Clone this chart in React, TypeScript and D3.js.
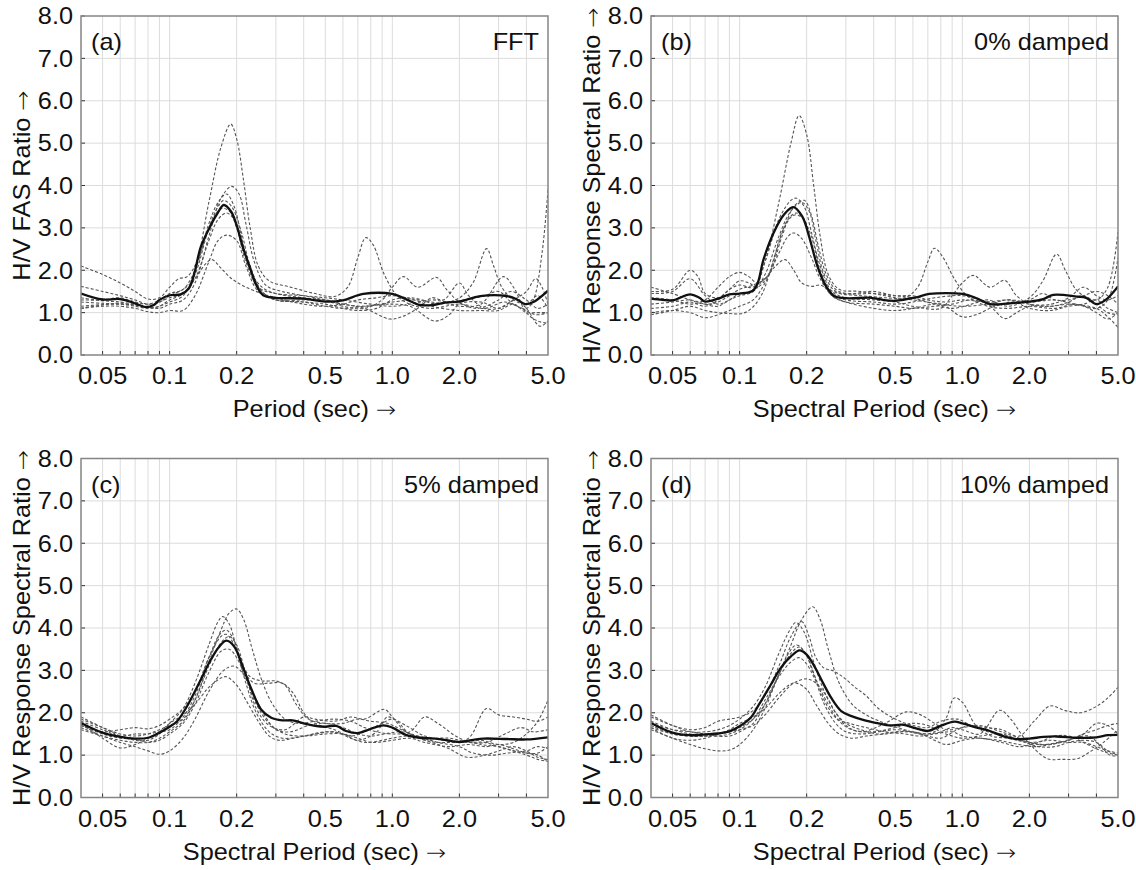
import React from "react";
import * as d3 from "d3";

// ---------- data (period [s], ratio) ----------
const xTickValues = [0.05, 0.1, 0.2, 0.5, 1, 2, 5];
const xTickLabels = ["0.05", "0.1", "0.2", "0.5", "1.0", "2.0", "5.0"];
const xGridValues = [0.05, 0.06, 0.07, 0.08, 0.09, 0.1, 0.2, 0.3, 0.4, 0.5, 0.6, 0.7, 0.8, 0.9, 1, 2, 3, 4];
const yTickValues = [0, 1, 2, 3, 4, 5, 6, 7, 8];
const yTickLabels = ["0.0", "1.0", "2.0", "3.0", "4.0", "5.0", "6.0", "7.0", "8.0"];

const panelLabels = ["(a)", "(b)", "(c)", "(d)"];
const panelTags = ["FFT", "0% damped", "5% damped", "10% damped"];
const yTitles = ["H/V FAS Ratio ", "H/V Response Spectral Ratio ", "H/V Response Spectral Ratio ", "H/V Response Spectral Ratio "];
const xTitles = ["Period (sec) ", "Spectral Period (sec) ", "Spectral Period (sec) ", "Spectral Period (sec) "];
const ARROW = "→";

type P = [number, number];

const fftMean: P[] = [[0.04,1.45],[0.05,1.31],[0.06,1.32],[0.07,1.22],[0.078,1.13],[0.085,1.18],[0.09,1.30],[0.1,1.41],[0.112,1.43],[0.122,1.57],[0.129,1.92],[0.138,2.55],[0.153,3.06],[0.164,3.34],[0.175,3.54],[0.189,3.38],[0.2,3.06],[0.213,2.55],[0.229,2.08],[0.245,1.65],[0.263,1.41],[0.3,1.35],[0.4,1.33],[0.5,1.26],[0.6,1.29],[0.74,1.44],[1.0,1.44],[1.15,1.32],[1.33,1.18],[1.52,1.18],[1.75,1.24],[2.0,1.26],[2.48,1.39],[3.27,1.39],[3.6,1.32],[3.95,1.2],[4.3,1.25],[5.0,1.52]];
const fftRuns: P[][] = [
  [[0.04,1.15],[0.055,1.2],[0.07,1.18],[0.085,1.12],[0.1,1.25],[0.115,1.4],[0.13,2.0],[0.15,3.6],[0.17,4.9],[0.188,5.45],[0.2,5.1],[0.215,4.1],[0.23,3.0],[0.25,2.1],[0.28,1.75],[0.35,1.6],[0.45,1.45],[0.55,1.38],[0.63,1.6],[0.7,2.3],[0.76,2.77],[0.82,2.6],[0.92,1.9],[1.05,1.4],[1.2,1.2],[1.5,1.1],[2.0,1.2],[2.6,1.1],[3.2,1.25],[3.8,1.1],[4.4,0.95],[5.0,1.0]],
  [[0.04,1.1],[0.05,1.18],[0.06,1.22],[0.075,1.15],[0.09,1.1],[0.1,1.2],[0.115,1.3],[0.13,1.7],[0.15,2.8],[0.17,3.7],[0.19,3.98],[0.205,3.8],[0.22,3.1],[0.24,2.2],[0.27,1.65],[0.32,1.5],[0.4,1.4],[0.5,1.3],[0.6,1.15],[0.75,1.1],[0.9,1.3],[1.0,1.6],[1.12,1.85],[1.3,1.6],[1.58,1.83],[1.75,1.55],[2.0,1.25],[2.4,1.1],[3.0,1.3],[3.4,1.5],[4.0,1.3],[4.5,1.1],[5.0,1.2]],
  [[0.04,2.1],[0.05,1.9],[0.06,1.7],[0.07,1.5],[0.08,1.32],[0.09,1.35],[0.1,1.6],[0.11,1.8],[0.12,1.85],[0.135,2.3],[0.15,3.1],[0.165,3.6],[0.18,3.8],[0.195,3.5],[0.21,2.8],[0.23,2.0],[0.26,1.6],[0.3,1.45],[0.4,1.35],[0.5,1.3],[0.6,1.2],[0.75,1.15],[1.0,1.25],[1.3,1.3],[1.6,1.2],[2.0,1.35],[2.3,1.7],[2.65,2.51],[2.85,2.1],[3.1,1.6],[3.5,1.3],[4.0,1.2],[4.5,1.4],[5.0,1.1]],
  [[0.04,1.35],[0.05,1.28],[0.06,1.25],[0.07,1.2],[0.08,1.15],[0.09,1.25],[0.1,1.35],[0.115,1.45],[0.13,1.9],[0.15,3.0],[0.165,3.5],[0.175,3.65],[0.19,3.5],[0.21,2.9],[0.23,2.1],[0.26,1.5],[0.3,1.3],[0.4,1.25],[0.5,1.2],[0.6,1.1],[0.7,1.05],[0.85,1.1],[1.0,1.3],[1.2,1.35],[1.5,1.25],[1.8,1.2],[2.0,1.15],[2.5,1.2],[3.15,1.85],[3.5,1.6],[4.0,1.0],[4.5,0.8],[5.0,0.75]],
  [[0.04,1.25],[0.05,1.22],[0.06,1.2],[0.07,1.15],[0.08,1.1],[0.09,1.15],[0.1,1.3],[0.115,1.45],[0.13,1.8],[0.15,2.7],[0.165,3.2],[0.18,3.35],[0.195,3.2],[0.21,2.7],[0.23,2.0],[0.26,1.5],[0.3,1.3],[0.4,1.3],[0.5,1.3],[0.6,1.2],[0.75,1.1],[0.97,0.85],[1.1,0.9],[1.3,1.1],[1.5,1.35],[1.7,1.3],[2.0,1.7],[2.2,1.4],[2.6,1.1],[3.0,1.1],[3.6,1.3],[4.0,1.1],[4.6,0.68],[5.0,0.8]],
  [[0.04,1.1],[0.05,1.15],[0.06,1.15],[0.07,1.1],[0.08,1.02],[0.09,1.0],[0.1,1.05],[0.115,1.05],[0.13,1.4],[0.15,2.2],[0.165,2.7],[0.18,2.83],[0.2,2.7],[0.22,2.1],[0.25,1.5],[0.3,1.3],[0.4,1.25],[0.5,1.15],[0.6,1.1],[0.75,1.15],[1.0,1.2],[1.2,1.15],[1.55,0.8],[1.8,0.95],[2.0,1.2],[2.5,1.25],[3.0,1.1],[3.5,1.3],[4.0,1.5],[4.4,1.8],[4.7,1.6],[5.0,1.2]],
  [[0.04,1.62],[0.05,1.5],[0.06,1.4],[0.07,1.3],[0.08,1.2],[0.09,1.25],[0.1,1.4],[0.115,1.55],[0.13,1.8],[0.145,2.15],[0.155,2.25],[0.17,2.05],[0.19,1.8],[0.22,1.6],[0.26,1.45],[0.3,1.35],[0.4,1.2],[0.5,1.15],[0.6,1.2],[0.7,1.3],[0.85,1.35],[1.0,1.4],[1.25,1.3],[1.5,1.15],[2.0,1.05],[2.5,1.05],[3.0,1.05],[3.5,1.2],[4.0,1.0],[4.4,1.0],[5.0,1.0]],
  [[0.04,1.3],[0.05,1.3],[0.06,1.35],[0.07,1.25],[0.08,1.2],[0.09,1.3],[0.1,1.45],[0.115,1.55],[0.13,2.0],[0.15,3.0],[0.17,3.45],[0.185,3.4],[0.2,3.0],[0.22,2.2],[0.25,1.6],[0.3,1.45],[0.4,1.4],[0.5,1.35],[0.6,1.3],[0.8,1.2],[1.0,1.15],[1.2,1.2],[1.5,1.3],[1.8,1.25],[2.1,1.3],[2.6,1.4],[3.0,1.5],[3.5,1.2],[4.0,1.1],[4.3,1.3],[4.7,2.4],[5.0,3.9]],
];

const d0Mean: P[] = [[0.04,1.33],[0.045,1.30],[0.05,1.29],[0.06,1.43],[0.066,1.35],[0.07,1.26],[0.082,1.35],[0.09,1.43],[0.1,1.45],[0.114,1.51],[0.12,1.67],[0.128,2.25],[0.142,2.88],[0.158,3.31],[0.174,3.49],[0.191,3.27],[0.205,2.8],[0.2235,2.1],[0.244,1.63],[0.266,1.39],[0.3,1.34],[0.39,1.35],[0.44,1.30],[0.5,1.28],[0.62,1.36],[0.71,1.44],[1.0,1.44],[1.16,1.34],[1.33,1.2],[1.63,1.22],[2.0,1.26],[2.31,1.32],[2.56,1.42],[3.27,1.38],[3.6,1.35],[4.0,1.2],[4.4,1.3],[5.0,1.62]];
const d0Runs: P[][] = [
  [[0.04,1.2],[0.05,1.25],[0.06,1.3],[0.07,1.2],[0.08,1.15],[0.09,1.3],[0.1,1.4],[0.115,1.5],[0.13,2.2],[0.15,3.6],[0.17,5.0],[0.185,5.65],[0.2,5.2],[0.215,4.0],[0.23,2.8],[0.25,1.9],[0.28,1.55],[0.35,1.5],[0.45,1.4],[0.55,1.35],[0.63,1.6],[0.7,2.2],[0.75,2.52],[0.82,2.3],[0.92,1.8],[1.05,1.4],[1.3,1.15],[1.6,1.1],[2.0,1.15],[2.6,1.1],[3.2,1.2],[4.0,1.1],[4.5,1.3],[5.0,2.3]],
  [[0.04,1.5],[0.05,1.55],[0.06,2.0],[0.065,1.85],[0.07,1.45],[0.08,1.35],[0.09,1.55],[0.1,1.65],[0.115,1.6],[0.13,2.2],[0.15,3.2],[0.17,3.65],[0.18,3.7],[0.195,3.5],[0.21,2.9],[0.23,2.1],[0.26,1.5],[0.3,1.35],[0.4,1.3],[0.5,1.25],[0.6,1.15],[0.8,1.1],[0.9,1.4],[1.0,1.7],[1.12,1.88],[1.33,1.6],[1.55,1.76],[1.75,1.4],[2.0,1.2],[2.5,1.15],[3.0,1.25],[3.5,1.4],[4.0,1.2],[4.5,1.0],[5.0,0.95]],
  [[0.04,1.35],[0.05,1.3],[0.06,1.2],[0.07,1.3],[0.08,1.6],[0.09,1.85],[0.1,1.95],[0.11,1.85],[0.12,1.7],[0.135,1.9],[0.155,2.8],[0.175,3.5],[0.195,3.65],[0.21,3.3],[0.225,2.6],[0.245,1.9],[0.27,1.55],[0.3,1.45],[0.4,1.45],[0.5,1.4],[0.6,1.35],[0.75,1.2],[0.9,1.1],[1.1,1.2],[1.3,1.3],[1.6,1.15],[2.0,1.35],[2.3,1.75],[2.65,2.38],[2.9,2.0],[3.3,1.5],[4.0,1.3],[4.5,1.6],[5.0,2.9]],
  [[0.04,1.6],[0.05,1.45],[0.06,1.3],[0.07,1.2],[0.08,1.25],[0.09,1.4],[0.1,1.55],[0.115,1.65],[0.13,1.8],[0.145,2.1],[0.16,2.25],[0.175,2.0],[0.19,1.7],[0.21,1.62],[0.23,1.65],[0.25,1.55],[0.28,1.45],[0.35,1.4],[0.45,1.35],[0.6,1.3],[0.8,1.2],[1.0,1.15],[1.3,1.2],[1.6,1.3],[2.0,1.25],[2.6,1.3],[3.2,1.2],[4.0,1.1],[4.5,0.9],[5.0,0.65]],
  [[0.04,1.0],[0.05,1.05],[0.06,1.0],[0.07,0.88],[0.08,0.95],[0.09,1.05],[0.1,1.15],[0.115,1.3],[0.13,1.7],[0.15,2.4],[0.165,2.8],[0.175,2.88],[0.19,2.75],[0.21,2.3],[0.23,1.8],[0.26,1.4],[0.3,1.25],[0.4,1.1],[0.5,1.05],[0.6,1.1],[0.8,1.2],[1.0,0.9],[1.15,0.95],[1.4,1.15],[1.7,1.25],[2.0,1.1],[2.5,1.05],[3.0,1.15],[3.5,1.2],[4.0,1.3],[4.5,1.1],[5.0,1.0]],
  [[0.04,0.95],[0.05,1.05],[0.06,1.15],[0.07,1.05],[0.08,1.0],[0.09,0.98],[0.1,0.97],[0.11,1.05],[0.125,1.4],[0.145,2.4],[0.165,3.2],[0.18,3.35],[0.195,3.2],[0.21,2.6],[0.23,1.9],[0.26,1.4],[0.3,1.25],[0.4,1.2],[0.5,1.15],[0.6,1.1],[0.75,1.15],[0.9,1.2],[1.1,1.3],[1.3,1.2],[1.55,0.86],[1.75,1.0],[2.0,1.15],[2.5,1.2],[3.0,1.35],[3.5,1.6],[4.0,1.4],[4.5,1.3],[5.0,1.4]],
  [[0.04,1.45],[0.05,1.5],[0.06,1.8],[0.07,1.4],[0.08,1.2],[0.09,1.3],[0.1,1.45],[0.115,1.5],[0.13,1.9],[0.15,2.8],[0.17,3.4],[0.19,3.6],[0.205,3.4],[0.22,2.7],[0.24,1.9],[0.27,1.5],[0.32,1.45],[0.4,1.5],[0.5,1.4],[0.6,1.4],[0.7,1.3],[0.85,1.25],[1.0,1.3],[1.3,1.25],[1.6,1.3],[2.0,1.2],[2.5,1.15],[3.0,1.2],[3.5,1.15],[4.0,1.0],[4.5,0.85],[5.0,1.0]],
  [[0.04,1.1],[0.05,1.15],[0.06,1.25],[0.07,1.15],[0.08,1.3],[0.09,1.55],[0.1,1.75],[0.11,1.7],[0.12,1.6],[0.135,1.9],[0.155,2.9],[0.175,3.3],[0.19,3.25],[0.21,2.8],[0.23,2.0],[0.26,1.45],[0.3,1.3],[0.4,1.25],[0.5,1.2],[0.6,1.25],[0.75,1.35],[1.0,1.4],[1.2,1.3],[1.5,1.2],[2.0,1.3],[2.3,1.45],[2.6,1.3],[3.0,1.3],[3.5,1.4],[4.0,1.5],[4.5,1.4],[5.0,1.2]],
];

const d5Mean: P[] = [[0.04,1.76],[0.05,1.53],[0.06,1.43],[0.07,1.39],[0.08,1.41],[0.09,1.53],[0.1,1.67],[0.108,1.8],[0.122,2.23],[0.138,2.78],[0.153,3.25],[0.167,3.56],[0.18,3.70],[0.195,3.56],[0.213,3.09],[0.232,2.58],[0.258,2.07],[0.286,1.88],[0.32,1.82],[0.356,1.82],[0.4,1.75],[0.45,1.69],[0.5,1.67],[0.56,1.69],[0.62,1.57],[0.7,1.52],[0.79,1.61],[0.91,1.70],[1.0,1.65],[1.16,1.47],[1.33,1.41],[1.63,1.38],[2.0,1.31],[2.31,1.36],[2.56,1.39],[3.27,1.38],[4.0,1.37],[5.0,1.42]];
const d5Runs: P[][] = [
  [[0.04,1.6],[0.05,1.45],[0.06,1.35],[0.07,1.3],[0.08,1.3],[0.09,1.4],[0.1,1.55],[0.115,1.8],[0.13,2.3],[0.15,3.2],[0.17,3.95],[0.185,4.35],[0.2,4.45],[0.215,4.2],[0.235,3.5],[0.26,2.75],[0.29,2.2],[0.33,1.85],[0.38,1.75],[0.45,1.8],[0.55,1.85],[0.65,1.8],[0.75,1.65],[0.85,1.55],[1.0,1.5],[1.2,1.55],[1.4,1.9],[1.6,1.75],[2.0,1.4],[2.5,1.25],[3.0,1.2],[4.0,1.0],[4.5,0.9],[5.0,0.85]],
  [[0.04,1.9],[0.05,1.65],[0.06,1.45],[0.07,1.35],[0.08,1.35],[0.09,1.5],[0.1,1.75],[0.115,2.1],[0.13,2.7],[0.15,3.6],[0.165,4.15],[0.173,4.27],[0.185,4.1],[0.2,3.5],[0.22,2.7],[0.245,2.0],[0.28,1.55],[0.32,1.4],[0.4,1.45],[0.5,1.55],[0.6,1.5],[0.7,1.35],[0.85,1.55],[0.95,1.9],[1.05,1.8],[1.2,1.5],[1.5,1.4],[2.0,1.3],[2.5,1.35],[3.0,1.25],[3.5,1.3],[4.0,1.5],[4.5,1.8],[5.0,2.3]],
  [[0.04,1.8],[0.05,1.6],[0.06,1.45],[0.07,1.5],[0.08,1.5],[0.09,1.55],[0.1,1.6],[0.115,1.9],[0.13,2.4],[0.15,3.3],[0.168,3.85],[0.18,3.95],[0.195,3.7],[0.21,3.2],[0.23,2.85],[0.26,2.75],[0.3,2.75],[0.33,2.65],[0.37,2.2],[0.42,1.85],[0.5,1.75],[0.6,1.75],[0.7,1.85],[0.8,1.8],[0.95,1.75],[1.1,1.6],[1.4,1.35],[1.8,1.3],[2.2,1.4],[2.65,2.1],[3.0,1.95],[3.5,1.9],[4.0,1.85],[4.5,1.8],[5.0,1.9]],
  [[0.04,1.7],[0.05,1.55],[0.06,1.6],[0.07,1.65],[0.08,1.62],[0.09,1.7],[0.1,1.85],[0.115,2.1],[0.13,2.5],[0.15,3.3],[0.17,3.8],[0.18,3.85],[0.195,3.6],[0.215,3.0],[0.24,2.7],[0.28,2.7],[0.32,2.7],[0.36,2.45],[0.4,2.0],[0.45,1.75],[0.55,1.6],[0.65,1.45],[0.75,1.55],[0.9,1.75],[1.0,1.85],[1.15,1.7],[1.4,1.45],[1.8,1.35],[2.2,1.3],[2.6,1.3],[3.0,1.2],[3.5,1.1],[4.0,1.05],[4.5,1.05],[5.0,1.2]],
  [[0.04,1.65],[0.05,1.45],[0.06,1.3],[0.07,1.2],[0.08,1.1],[0.09,1.02],[0.1,1.1],[0.115,1.4],[0.13,1.85],[0.15,2.5],[0.175,3.0],[0.195,3.1],[0.215,2.9],[0.24,2.4],[0.27,1.9],[0.3,1.6],[0.35,1.55],[0.42,1.7],[0.5,1.75],[0.6,1.65],[0.7,1.5],[0.8,1.45],[0.92,1.5],[1.1,1.55],[1.3,1.45],[1.6,1.3],[2.0,1.2],[2.3,1.05],[2.8,1.0],[3.3,1.05],[4.0,1.1],[4.5,1.2],[5.0,1.15]],
  [[0.04,1.75],[0.05,1.4],[0.06,1.17],[0.07,1.25],[0.08,1.4],[0.09,1.55],[0.1,1.75],[0.115,1.95],[0.13,2.2],[0.15,2.6],[0.17,2.82],[0.18,2.85],[0.2,2.65],[0.22,2.3],[0.25,1.8],[0.28,1.45],[0.31,1.35],[0.36,1.4],[0.45,1.5],[0.55,1.55],[0.65,1.4],[0.75,1.3],[0.9,1.35],[1.0,1.4],[1.2,1.45],[1.5,1.3],[1.8,1.15],[2.16,0.95],[2.6,1.0],[3.0,1.1],[3.5,1.2],[4.0,1.1],[4.5,0.95],[5.0,0.9]],
  [[0.04,1.85],[0.05,1.65],[0.06,1.5],[0.07,1.45],[0.08,1.5],[0.09,1.6],[0.1,1.7],[0.115,1.85],[0.13,2.3],[0.15,3.1],[0.17,3.65],[0.185,3.8],[0.2,3.6],[0.22,2.9],[0.245,2.1],[0.28,1.7],[0.33,1.6],[0.4,1.9],[0.45,1.85],[0.55,1.8],[0.65,1.9],[0.75,1.85],[0.92,2.08],[1.0,1.9],[1.15,1.55],[1.4,1.4],[1.8,1.4],[2.2,1.3],[2.65,1.3],[3.2,1.5],[3.8,1.65],[4.3,1.55],[5.0,1.6]],
  [[0.04,1.7],[0.05,1.5],[0.06,1.4],[0.07,1.38],[0.08,1.3],[0.09,1.35],[0.1,1.5],[0.115,1.75],[0.13,2.2],[0.15,2.95],[0.17,3.45],[0.185,3.5],[0.2,3.3],[0.22,2.8],[0.245,2.2],[0.28,1.75],[0.33,1.5],[0.4,1.45],[0.5,1.5],[0.6,1.5],[0.7,1.4],[0.8,1.3],[1.0,1.35],[1.2,1.4],[1.4,1.3],[1.8,1.2],[2.2,1.25],[2.65,1.2],[3.0,1.25],[3.5,1.15],[4.0,1.05],[4.5,1.0],[5.0,0.85]],
];

const d10Mean: P[] = [[0.04,1.76],[0.05,1.53],[0.06,1.47],[0.07,1.49],[0.08,1.51],[0.09,1.56],[0.1,1.68],[0.112,1.88],[0.122,2.19],[0.138,2.66],[0.153,3.06],[0.17,3.33],[0.186,3.47],[0.2,3.37],[0.217,3.09],[0.237,2.70],[0.258,2.35],[0.286,2.04],[0.318,1.92],[0.365,1.82],[0.42,1.75],[0.47,1.70],[0.54,1.72],[0.62,1.63],[0.7,1.57],[0.79,1.68],[0.92,1.79],[1.0,1.75],[1.16,1.65],[1.33,1.57],[1.52,1.45],[1.75,1.38],[2.0,1.39],[2.31,1.43],[2.65,1.44],[3.27,1.41],[4.0,1.42],[4.5,1.47],[5.0,1.48]];
const d10Runs: P[][] = [
  [[0.04,1.65],[0.05,1.5],[0.06,1.45],[0.07,1.45],[0.08,1.5],[0.09,1.55],[0.1,1.65],[0.115,1.85],[0.13,2.2],[0.15,2.9],[0.17,3.6],[0.19,4.2],[0.213,4.5],[0.23,4.2],[0.25,3.5],[0.28,2.7],[0.32,2.2],[0.37,1.95],[0.45,1.75],[0.55,1.6],[0.65,1.5],[0.75,1.55],[0.85,1.9],[0.92,2.35],[1.0,2.25],[1.15,1.7],[1.35,1.45],[1.6,1.4],[2.0,1.3],[2.5,1.35],[3.0,1.3],[3.5,1.3],[4.0,1.2],[4.5,1.1],[5.0,1.05]],
  [[0.04,1.95],[0.05,1.7],[0.06,1.55],[0.07,1.55],[0.08,1.6],[0.09,1.7],[0.1,1.85],[0.115,2.15],[0.13,2.6],[0.15,3.4],[0.168,3.95],[0.179,4.13],[0.195,3.9],[0.215,3.2],[0.24,2.5],[0.27,2.0],[0.3,1.75],[0.35,1.6],[0.42,1.5],[0.5,1.55],[0.6,1.55],[0.7,1.45],[0.8,1.4],[0.95,1.6],[1.1,1.7],[1.3,1.55],[1.6,1.45],[2.0,1.3],[2.4,1.25],[3.0,1.35],[3.5,1.5],[4.0,1.6],[4.5,1.7],[5.0,1.75]],
  [[0.04,1.9],[0.05,1.7],[0.06,1.6],[0.07,1.65],[0.08,1.8],[0.09,1.85],[0.1,1.9],[0.115,2.05],[0.13,2.4],[0.15,3.1],[0.17,3.8],[0.19,4.15],[0.205,3.8],[0.22,3.3],[0.24,3.05],[0.26,3.0],[0.29,2.85],[0.33,2.6],[0.37,2.4],[0.42,2.1],[0.5,1.85],[0.6,1.7],[0.7,1.65],[0.8,1.8],[0.95,1.85],[1.1,1.7],[1.3,1.65],[1.5,1.6],[1.8,1.4],[2.2,1.25],[2.7,1.3],[3.2,1.4],[3.7,1.45],[4.2,1.2],[4.6,1.0],[5.0,0.98]],
  [[0.04,1.6],[0.05,1.4],[0.06,1.25],[0.07,1.15],[0.08,1.1],[0.09,1.12],[0.1,1.25],[0.115,1.6],[0.13,2.1],[0.15,2.9],[0.168,3.45],[0.18,3.6],[0.195,3.45],[0.215,2.9],[0.24,2.2],[0.27,1.75],[0.3,1.55],[0.35,1.5],[0.42,1.55],[0.5,1.6],[0.6,1.55],[0.7,1.5],[0.8,1.55],[0.9,1.65],[1.0,1.6],[1.2,1.5],[1.47,2.06],[1.65,1.85],[1.9,1.4],[2.4,0.92],[2.8,0.9],[3.3,0.92],[3.8,1.1],[4.3,1.3],[5.0,1.6]],
  [[0.04,1.7],[0.05,1.5],[0.06,1.45],[0.07,1.45],[0.08,1.5],[0.09,1.55],[0.1,1.6],[0.115,1.7],[0.13,1.95],[0.15,2.35],[0.175,2.7],[0.2,2.8],[0.22,2.7],[0.245,2.4],[0.27,2.0],[0.3,1.7],[0.35,1.55],[0.45,1.75],[0.56,2.02],[0.65,1.95],[0.75,1.75],[0.85,1.6],[1.0,1.65],[1.2,1.7],[1.5,1.55],[1.8,1.45],[2.1,1.8],[2.48,2.16],[2.9,2.05],[3.4,2.0],[4.0,2.15],[4.5,2.35],[5.0,2.6]],
  [[0.04,1.65],[0.05,1.4],[0.06,1.35],[0.07,1.4],[0.08,1.5],[0.09,1.6],[0.1,1.75],[0.115,1.9],[0.13,2.1],[0.15,2.45],[0.17,2.68],[0.18,2.7],[0.2,2.55],[0.22,2.2],[0.25,1.75],[0.28,1.5],[0.32,1.4],[0.37,1.45],[0.45,1.5],[0.55,1.55],[0.65,1.5],[0.75,1.35],[0.85,1.25],[1.0,1.35],[1.2,1.4],[1.5,1.3],[1.8,1.2],[2.2,1.3],[2.6,1.45],[3.0,1.45],[3.5,1.3],[4.0,1.15],[4.5,1.05],[5.0,1.0]],
  [[0.04,1.75],[0.05,1.6],[0.06,1.55],[0.07,1.5],[0.08,1.45],[0.09,1.45],[0.1,1.55],[0.115,1.75],[0.13,2.2],[0.15,2.9],[0.17,3.4],[0.185,3.55],[0.2,3.35],[0.22,2.8],[0.245,2.2],[0.275,1.85],[0.31,1.75],[0.37,1.65],[0.45,1.55],[0.55,1.5],[0.65,1.45],[0.75,1.5],[0.9,1.55],[1.0,1.45],[1.2,1.4],[1.45,1.35],[1.8,1.25],[2.1,1.2],[2.5,1.25],[3.0,1.35],[3.5,1.5],[4.0,1.75],[4.5,1.7],[5.0,1.5]],
  [[0.04,1.8],[0.05,1.6],[0.06,1.5],[0.07,1.45],[0.08,1.45],[0.09,1.5],[0.1,1.6],[0.115,1.85],[0.13,2.3],[0.15,2.85],[0.17,3.2],[0.185,3.3],[0.2,3.15],[0.22,2.75],[0.25,2.2],[0.28,1.8],[0.32,1.6],[0.4,1.55],[0.5,1.65],[0.6,1.75],[0.7,1.7],[0.8,1.55],[0.9,1.45],[1.0,1.4],[1.2,1.45],[1.5,1.5],[1.8,1.35],[2.2,1.2],[2.6,1.2],[3.0,1.3],[3.5,1.35],[4.0,1.3],[4.5,1.1],[5.0,1.0]],
];

const panelMeans = [fftMean, d0Mean, d5Mean, d10Mean];
const panelRuns = [fftRuns, d0Runs, d5Runs, d10Runs];

// ---------- layout ----------
const W = 1136, H = 870;
const PW = 467, PH = 339;
const lefts = [81, 651, 81, 651];
const tops = [16, 16, 458.5, 458.5];
const FONT = "'Liberation Sans', Arial, Helvetica, sans-serif";
const ARROW_FONT = "'DejaVu Sans', sans-serif";
const FS = 23;
const SX = 1.1;
const TXT = "#111";

function Panel({ i }: { i: number }) {
  const left = lefts[i], top = tops[i], right = left + PW, bottom = top + PH;
  const x = d3.scaleLog().domain([0.04, 5]).range([left, right]);
  const y = d3.scaleLinear().domain([0, 8]).range([bottom, top]);
  const line = d3.line<P>().x(d => x(d[0])).y(d => y(d[1])).curve(d3.curveCatmullRom.alpha(0.5));
  const clipId = `clip${i}`;
  const cx = (left + right) / 2, cy = (top + bottom) / 2;
  return (
    <g>
      <defs>
        <clipPath id={clipId}><rect x={left} y={top} width={PW} height={PH} /></clipPath>
      </defs>
      {yTickValues.slice(1, -1).map(v => (
        <line key={"hy" + v} x1={left} x2={right} y1={y(v)} y2={y(v)} stroke="#dcdcdc" strokeWidth={1} />
      ))}
      {xGridValues.map(v => (
        <line key={"gx" + v} x1={x(v)} x2={x(v)} y1={top} y2={bottom} stroke="#dcdcdc" strokeWidth={1} />
      ))}
      <g clipPath={`url(#${clipId})`}>
        {panelRuns[i].map((run, k) => (
          <path key={k} d={line(run) || ""} fill="none" stroke="#555" strokeWidth={1.1} strokeDasharray="3,2" />
        ))}
        <path d={line(panelMeans[i]) || ""} fill="none" stroke="#111" strokeWidth={2.3} />
      </g>
      {xGridValues.map(v => (
        <line key={"tk" + v} x1={x(v)} x2={x(v)} y1={bottom} y2={bottom - 4} stroke="#333" strokeWidth={1} />
      ))}
      {yTickValues.map(v => (
        <line key={"ty" + v} x1={left} x2={left + 4} y1={y(v)} y2={y(v)} stroke="#333" strokeWidth={1} />
      ))}
      <rect x={left} y={top} width={PW} height={PH} fill="none" stroke="#858585" strokeWidth={1.5} />
      {yTickValues.map((v, k) => (
        <text key={"yl" + v} transform={`translate(${left - 8},${y(v)}) scale(${SX},1)`} textAnchor="end" dy="0.36em"
          fontFamily={FONT} fontSize={FS} fill={TXT}>{yTickLabels[k]}</text>
      ))}
      {xTickValues.map((v, k) => (
        <text key={"xl" + v} transform={`translate(${x(v)},${bottom + 29}) scale(${SX},1)`} textAnchor="middle"
          fontFamily={FONT} fontSize={FS} fill={TXT}>{xTickLabels[k]}</text>
      ))}
      <text transform={`translate(${cx},${bottom + 62}) scale(${SX},1)`} textAnchor="middle"
        fontFamily={FONT} fontSize={FS} fill={TXT}>{xTitles[i]}<tspan fontFamily={ARROW_FONT} fontSize={FS - 1} fontWeight={300}>{ARROW}</tspan></text>
      <text transform={`translate(${left - 51},${cy}) rotate(-90) scale(${SX},1)`} textAnchor="middle"
        fontFamily={FONT} fontSize={FS} fill={TXT}>{yTitles[i]}<tspan fontFamily={ARROW_FONT} fontSize={FS - 1} fontWeight={300}>{ARROW}</tspan></text>
      <text transform={`translate(${left + 10},${top + 34}) scale(${SX},1)`} textAnchor="start"
        fontFamily={FONT} fontSize={FS} fill={TXT}>{panelLabels[i]}</text>
      <text transform={`translate(${right - 9},${top + 34}) scale(${SX},1)`} textAnchor="end"
        fontFamily={FONT} fontSize={FS} fill={TXT}>{panelTags[i]}</text>
    </g>
  );
}

export default function App() {
  return (
    <svg width={W} height={H} style={{ position: "absolute", left: 0, top: 0, background: "#fff" }}>
      <rect x={0} y={0} width={W} height={H} fill="#fff" />
      {[0, 1, 2, 3].map(i => <Panel key={i} i={i} />)}
    </svg>
  );
}
